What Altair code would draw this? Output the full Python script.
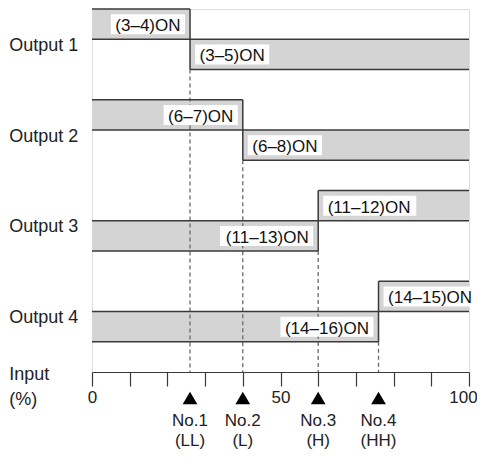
import altair as alt
import pandas as pd

# ---------------- data ----------------
outputs = ["Output 1", "Output 2", "Output 3", "Output 4"]
setpoints = [26, 40, 60, 76]                 # input % where each output switches
setpoint_names = ["No.1", "No.2", "No.3", "No.4"]
setpoint_codes = ["(LL)", "(L)", "(H)", "(HH)"]
below_labels = ["(3–4)ON", "(6–7)ON", "(11–13)ON", "(14–16)ON"]   # contact ON below setpoint
above_labels = ["(3–5)ON", "(6–8)ON", "(11–12)ON", "(14–15)ON"]   # contact ON above setpoint
below_on_top = [True, True, False, False]    # which contact is drawn on the upper row
tick_values = list(range(0, 101, 10))
shown_tick_labels = [0, 50, 100]
input_title = ["Input", "(%)"]

# ---------------- layout / style ----------------
W, H = 377, 363
PX = W / 100.0          # px per input %
PY = H / 12.0           # px per row unit
FONT = "Liberation Sans"
FS_ON = 17
FS_NAME = 18
FS_TICK = 17
FILL = "#d4d4d4"
LINE = "#3a3a3a"
GAP = 9.5               # px between switch point and label text
PAD = 4.5               # px white padding around label text

CHAR_W = {"(": 0.333, ")": 0.333, "–": 0.556, "O": 0.778, "N": 0.722}


def text_w(s, fs):
    return sum(CHAR_W.get(c, 0.556) for c in s) * fs


fills, hl, vl, dash, lab_r, lab_l, names = [], [], [], [], [], [], []
for k, name in enumerate(outputs):
    top, mid, bot = 3 * k, 3 * k + 1, 3 * k + 2
    t = setpoints[k]
    upper, lower = (top, mid), (mid, bot)
    seg_b = upper if below_on_top[k] else lower
    seg_a = lower if below_on_top[k] else upper
    fills.append(dict(x=0, x2=t, y=seg_b[0], y2=seg_b[1]))
    fills.append(dict(x=t, x2=100, y=seg_a[0], y2=seg_a[1]))
    hl.append(dict(x=0, x2=100, y=mid))
    hl.append(dict(x=0, x2=t, y=top if below_on_top[k] else bot))
    hl.append(dict(x=t, x2=100, y=bot if below_on_top[k] else top))
    vl.append(dict(x=t, y=top, y2=bot))
    dash.append(dict(x=t, y=bot, y2=12, name=setpoint_names[k], code=setpoint_codes[k]))
    wb = text_w(below_labels[k], FS_ON)
    wa = text_w(above_labels[k], FS_ON)
    lab_r.append(dict(label=below_labels[k], t=t, yc=(seg_b[0] + seg_b[1]) / 2,
                      bx=t - (GAP + wb + PAD) / PX, bx2=t - (GAP - PAD) / PX))
    lab_l.append(dict(label=above_labels[k], t=t, yc=(seg_a[0] + seg_a[1]) / 2,
                      bx=t + (GAP - PAD) / PX, bx2=t + (GAP + wa + PAD) / PX))
    names.append(dict(name=name, y=mid))

fills = pd.DataFrame(fills)
hl = pd.DataFrame(hl)
vl = pd.DataFrame(vl)
dash = pd.DataFrame(dash)
labs = pd.DataFrame(lab_r + lab_l)
lab_r = pd.DataFrame(lab_r)
lab_l = pd.DataFrame(lab_l)
names = pd.DataFrame(names)
title_df = pd.DataFrame({"txt": input_title, "line": [0, 1]})

xs = alt.Scale(domain=[0, 100], nice=False, zero=False)
ys = alt.Scale(domain=[0, 12], nice=False, zero=False, reverse=True)
label_expr = " || ".join(f"datum.value == {v}" for v in shown_tick_labels)
xaxis = alt.Axis(values=tick_values, labelExpr=f"({label_expr}) ? datum.label : ''",
                 tickSize=14, tickColor=LINE, tickWidth=1.2, domainColor=LINE,
                 domainWidth=1.2, labelFont=FONT, labelFontSize=FS_TICK,
                 labelColor="#222", labelPadding=3, labelFlush=False,
                 labelOffset={"condition": {"test": "datum.value == 100", "value": -6},
                              "value": 0},
                 labelOverlap=False, grid=False, title=None, orient="bottom")

X = lambda f="x": alt.X(f"{f}:Q", scale=xs, axis=xaxis)
Y = lambda f="y": alt.Y(f"{f}:Q", scale=ys, axis=None)

bars = alt.Chart(fills).mark_rect(fill=FILL, stroke=None).encode(
    x=X(), x2="x2:Q", y=Y(), y2="y2:Q")

dashes = alt.Chart(dash).mark_rule(color="#6a6a6a", strokeWidth=1.3,
                                    strokeDash=[4, 3]).encode(
    x=X(), y=Y(), y2="y2:Q")

boxes = alt.Chart(labs).mark_rect(fill="white", yOffset=-10, y2Offset=10).encode(
    x=X("bx"), x2="bx2:Q", y=Y("yc"), y2="yc:Q")

txt_r = alt.Chart(lab_r).mark_text(font=FONT, fontSize=FS_ON, color="#111",
                                   align="right", baseline="alphabetic",
                                   dx=-GAP, dy=7).encode(
    x=X("t"), y=Y("yc"), text="label:N")
txt_l = alt.Chart(lab_l).mark_text(font=FONT, fontSize=FS_ON, color="#111",
                                   align="left", baseline="alphabetic",
                                   dx=GAP, dy=7).encode(
    x=X("t"), y=Y("yc"), text="label:N")

hlines = alt.Chart(hl).mark_rule(color=LINE, strokeWidth=1.5).encode(
    x=X(), x2="x2:Q", y=Y())
vlines = alt.Chart(vl).mark_rule(color=LINE, strokeWidth=1.5).encode(
    x=X(), y=Y(), y2="y2:Q")

name_txt = alt.Chart(names).mark_text(font=FONT, fontSize=FS_NAME, color="#222",
                                      align="left", baseline="alphabetic",
                                      dy=11.5).encode(
    x=alt.value(-82.7), y=Y(), text="name:N")

tri = alt.Chart(dash).mark_point(shape="triangle-up", filled=True, size=216,
                                 color="black", opacity=1, yOffset=26).encode(
    x=X(), y=Y("y2"))

no_txt = alt.Chart(dash).mark_text(font=FONT, fontSize=FS_TICK, color="#222",
                                   baseline="alphabetic", dy=53.5).encode(
    x=X(), y=Y("y2"), text="name:N")
code_txt = alt.Chart(dash).mark_text(font=FONT, fontSize=FS_TICK, color="#222",
                                     baseline="alphabetic", dy=74).encode(
    x=X(), y=Y("y2"), text="code:N")

title_txt = alt.Chart(title_df).transform_calculate(
    yy="12 + datum.line * 25.0 / " + str(PY)
).mark_text(font=FONT, fontSize=FS_NAME, color="#222", align="left",
            baseline="alphabetic", dy=7.7).encode(
    x=alt.value(-82.7), y=Y("yy"), text="txt:N")

chart = alt.layer(
    bars, dashes, boxes, txt_r, txt_l, hlines, vlines, name_txt, tri,
    no_txt, code_txt, title_txt
).properties(
    width=W, height=H,
    padding={"left": 84, "top": 1, "right": 8, "bottom": 77},
    autosize=alt.AutoSizeParams(type="none"),
).configure_view(stroke=None).configure(background="white")

chart.save("out.html", embed_options={"renderer": "svg", "actions": False})
